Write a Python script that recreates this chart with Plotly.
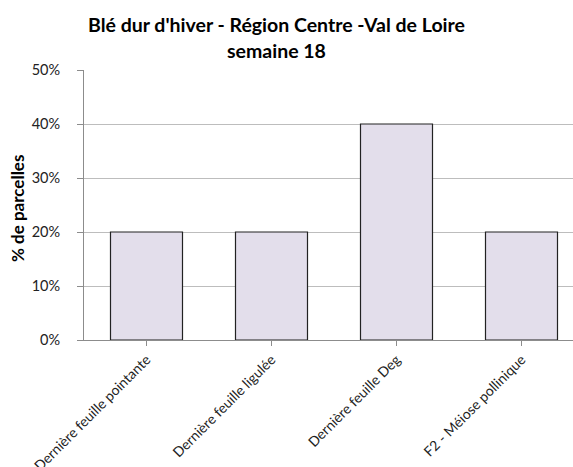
import plotly.graph_objects as go

categories = ["Dernière feuille pointante", "Dernière feuille ligulée", "Dernière feuille Deg", "F2 - Méiose pollinique"]
values = [0.20, 0.20, 0.40, 0.20]
y_ticks = [0, 0.1, 0.2, 0.3, 0.4, 0.5]
y_tick_labels = ["0%", "10%", "20%", "30%", "40%", "50%"]
title_line1 = "Blé dur d'hiver - Région Centre -Val de Loire"
title_line2 = "semaine 18"
y_title = "% de parcelles"

FONT = "Lato, 'Open Sans', sans-serif"

W, H = 573, 467
L, T, B = 84, 70, 127
plot_w = W - L
plot_h = H - T - B


def px_x(px):
    return (px - L) / plot_w


def px_y(py):
    return (H - B - py) / plot_h


fig = go.Figure(go.Bar(
    x=list(range(len(categories))),
    y=values,
    width=0.576,
    marker=dict(color="#E3DEEB", line=dict(color="#222222", width=1.2)),
))

fig.update_layout(
    width=W, height=H,
    margin=dict(l=L, r=0, t=T, b=B, pad=0, autoexpand=False),
    paper_bgcolor="white", plot_bgcolor="white",
    showlegend=False,
    font=dict(family=FONT, color="black"),
    annotations=[
        dict(text="<b>" + title_line1 + "</b>", xref="paper", yref="paper",
             x=px_x(276), y=px_y(24), xanchor="center", yanchor="middle",
             showarrow=False, font=dict(size=19.5, color="black")),
        dict(text="<b>" + title_line2 + "</b>", xref="paper", yref="paper",
             x=px_x(276), y=px_y(51), xanchor="center", yanchor="middle",
             showarrow=False, font=dict(size=19.5, color="black")),
        dict(text="<b>" + y_title + "</b>", xref="paper", yref="paper",
             x=px_x(17), y=px_y(209), xanchor="center", yanchor="middle",
             textangle=-90, showarrow=False, font=dict(size=17, color="black")),
    ],
)

fig.update_xaxes(
    tickmode="array", tickvals=list(range(len(categories))), ticktext=categories,
    range=[-0.5, -0.5 + plot_w / 125.0], tickangle=-45,
    tickfont=dict(size=14, color="#222"),
    showline=True, linecolor="#8c8c8c", linewidth=1,
    ticks="outside", tickson="boundaries", ticklen=5, tickcolor="#8c8c8c",
    showgrid=False, zeroline=False, automargin=False,
)

fig.update_yaxes(
    tickmode="array", tickvals=y_ticks, ticktext=y_tick_labels,
    range=[0, 0.5],
    tickfont=dict(size=14.5, color="#222"),
    showline=True, linecolor="#8c8c8c", linewidth=1,
    ticks="outside", ticklen=6, tickcolor="#8c8c8c",
    ticklabelstandoff=14,
    showgrid=True, gridcolor="#bdbdbd", gridwidth=1,
    zeroline=False, automargin=False,
)

fig.write_html(
    "out.html",
    config={"displayModeBar": False},
    post_script="document.body.style.margin='0';document.body.style.overflow='hidden';",
)
